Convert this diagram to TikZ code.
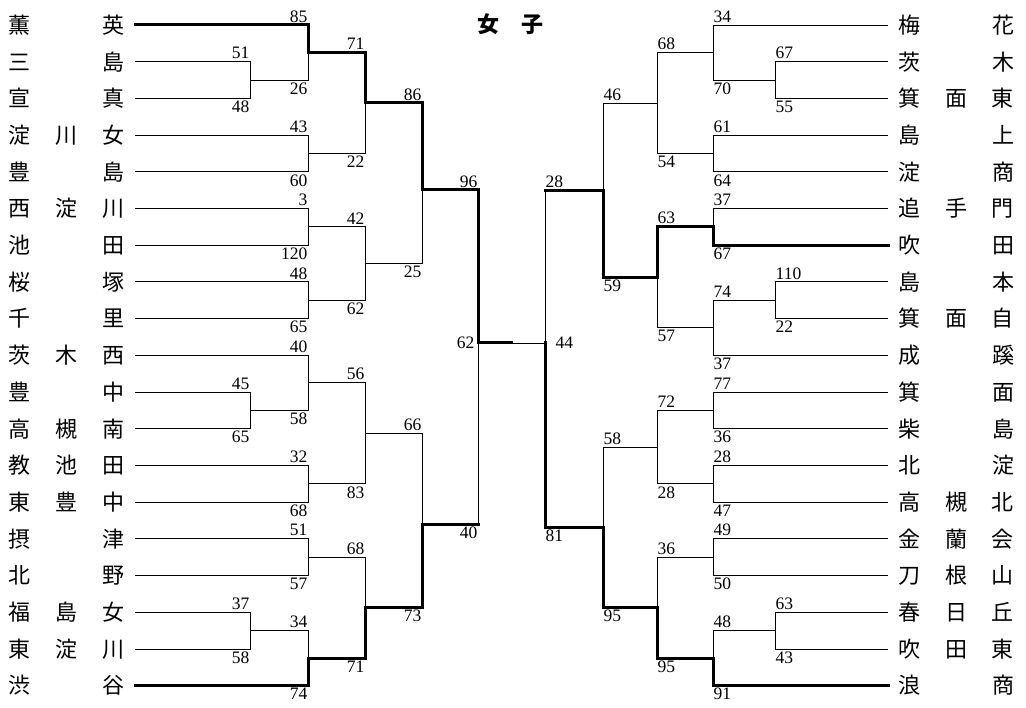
\documentclass[tikz,border=0pt]{standalone}
\usepackage{fontspec}
\setmainfont{Liberation Serif}
\newfontfamily\jp{Noto Sans CJK JP}
\tikzset{
  bout/.style={line width=0.8pt},
  win/.style={line width=3pt, line cap=rect},
  team/.style={font=\jp\fontsize{22}{22}\selectfont, inner sep=0pt},
  score/.style={font=\fontsize{17.5}{17.5}\selectfont, inner xsep=0.5pt, inner ysep=2.5pt},
}
\begin{document}
\begin{tikzpicture}[x=1pt,y=-1pt]
\useasboundingbox (0,0) rectangle (1026,708);
\node[team, font=\jp\bfseries\fontsize{22}{22}\selectfont] (title) at (510,24) {女\quad 子};

% schools, left and right
\foreach \i/\ca/\cb/\cc in {1/薫//英, 2/三//島, 3/宣//真, 4/淀/川/女,
  5/豊//島, 6/西/淀/川, 7/池//田, 8/桜//塚, 9/千//里,
  10/茨/木/西, 11/豊//中, 12/高/槻/南, 13/教/池/田,
  14/東/豊/中, 15/摂//津, 16/北//野, 17/福/島/女,
  18/東/淀/川, 19/渋//谷} {
  \pgfmathsetmacro\y{25+36.7*(\i-1)}
  \node[team] (l\i) at (67,\y) {\hbox to 116pt{\ca\hfil\cb\hfil\cc}};
  \coordinate (L\i) at (135,\y);
}
\foreach \i/\ca/\cb/\cc in {1/梅//花, 2/茨//木, 3/箕/面/東, 4/島//上,
  5/淀//商, 6/追/手/門, 7/吹//田, 8/島//本, 9/箕/面/自,
  10/成//蹊, 11/箕//面, 12/柴//島, 13/北//淀, 14/高/槻/北,
  15/金/蘭/会, 16/刀/根/山, 17/春/日/丘,
  18/吹/田/東, 19/浪//商} {
  \pgfmathsetmacro\y{25+36.7*(\i-1)}
  \node[team] (r\i) at (956,\y) {\hbox to 116pt{\ca\hfil\cb\hfil\cc}};
  \coordinate (R\i) at (888,\y);
}

% left bracket
\coordinate (La) at (250,80.05);
\coordinate (Lb) at (308,52.5);
\coordinate (Lc) at (308,153.45);
\coordinate (Ld) at (365,103);
\coordinate (Le) at (308,226.85);
\coordinate (Lf) at (308,300.25);
\coordinate (Lg) at (365,263.55);
\coordinate (Lh) at (422,190);
\coordinate (Li) at (250,410.35);
\coordinate (Lj) at (308,382.8);
\coordinate (Lk) at (308,483.75);
\coordinate (Ll) at (365,433.3);
\coordinate (Lm) at (308,557.15);
\coordinate (Ln) at (250,630.55);
\coordinate (Lo) at (308,658.1);
\coordinate (Lp) at (365,607.6);
\coordinate (Lq) at (422,524);
\coordinate (LF) at (478,343);
\coordinate (LFb) at (478,524);

% right bracket
\coordinate (Ra) at (775,80.05);
\coordinate (Rb) at (713,52.5);
\coordinate (Rc) at (713,153.45);
\coordinate (Rd) at (657,103);
\coordinate (Re) at (713,226.85);
\coordinate (Rf) at (775,300.25);
\coordinate (Rg) at (713,327.8);
\coordinate (Rh) at (657,277.3);
\coordinate (Ri) at (603,190.2);
\coordinate (Rj) at (713,410.35);
\coordinate (Rk) at (713,483.75);
\coordinate (Rl) at (657,447.05);
\coordinate (Rm) at (713,557.15);
\coordinate (Rn) at (775,630.55);
\coordinate (Ro) at (713,658.1);
\coordinate (Rp) at (657,607.6);
\coordinate (Rq) at (603,527.3);
\coordinate (RF) at (545,343);
\coordinate (RFt) at (545,190.2);
\coordinate (FM) at (511,343);

\foreach \m/\a/\wa/\s/\b/\wb/\t in {La/L2/bout/51/L3/bout/48, Lb/L1/win/85/La/bout/26,
  Lc/L4/bout/43/L5/bout/60, Ld/Lb/win/71/Lc/bout/22, Le/L6/bout/3/L7/bout/120,
  Lf/L8/bout/48/L9/bout/65, Lg/Le/bout/42/Lf/bout/62, Lh/Ld/win/86/Lg/bout/25,
  Li/L11/bout/45/L12/bout/65, Lj/L10/bout/40/Li/bout/58, Lk/L13/bout/32/L14/bout/68,
  Ll/Lj/bout/56/Lk/bout/83, Lm/L15/bout/51/L16/bout/57, Ln/L17/bout/37/L18/bout/58,
  Lo/Ln/bout/34/L19/win/74, Lp/Lm/bout/68/Lo/win/71, Lq/Ll/bout/66/Lp/win/73} {
  \draw[\wb] (\b) -| (\m);
  \draw[\wa] (\a) -| (\m);
  \node[score, anchor=south east] (\m-hi) at (\m |- \a) {\s};
  \node[score, anchor=north east] (\m-lo) at (\m |- \b) {\t};
}
\foreach \m/\a/\wa/\s/\b/\wb/\t in {Ra/R2/bout/67/R3/bout/55, Rb/R1/bout/34/Ra/bout/70,
  Rc/R4/bout/61/R5/bout/64, Rd/Rb/bout/68/Rc/bout/54, Re/R6/bout/37/R7/win/67,
  Rf/R8/bout/110/R9/bout/22, Rg/Rf/bout/74/R10/bout/37, Rh/Re/win/63/Rg/bout/57,
  Ri/Rd/bout/46/Rh/win/59, Rj/R11/bout/77/R12/bout/36, Rk/R13/bout/28/R14/bout/47,
  Rl/Rj/bout/72/Rk/bout/28, Rm/R15/bout/49/R16/bout/50, Rn/R17/bout/63/R18/bout/43,
  Ro/Rn/bout/48/R19/win/91, Rp/Rm/bout/36/Ro/win/95, Rq/Rl/bout/58/Rp/win/95} {
  \draw[\wb] (\b) -| (\m);
  \draw[\wa] (\a) -| (\m);
  \node[score, anchor=south west] (\m-hi) at (\m |- \a) {\s};
  \node[score, anchor=north west] (\m-lo) at (\m |- \b) {\t};
}

% semifinals and final
\draw[bout] (LFb) -- (LF);
\draw[win] (Lq) -- (LFb);
\draw[win] (Lh) -| (LF);
\draw[bout] (RFt) -- (RF);
\draw[win] (Ri) -- (RFt);
\draw[win] (Rq) -| (RF);
\draw[bout] (FM) -- (RF);
\draw[win] (LF) -- (FM);
\node[score, anchor=south east] (LF-hi) at (Lh -| LF) {96};
\node[score, anchor=north east] (LF-lo) at (LFb) {40};
\node[score, anchor=east] (LF-sc) at ([xshift=-3pt]LF) {62};
\node[score, anchor=south west] (RF-hi) at (RFt) {28};
\node[score, anchor=north west] (RF-lo) at (Rq -| RF) {81};
\node[score, anchor=west] (RF-sc) at ([xshift=10pt]RF) {44};
\end{tikzpicture}
\end{document}
